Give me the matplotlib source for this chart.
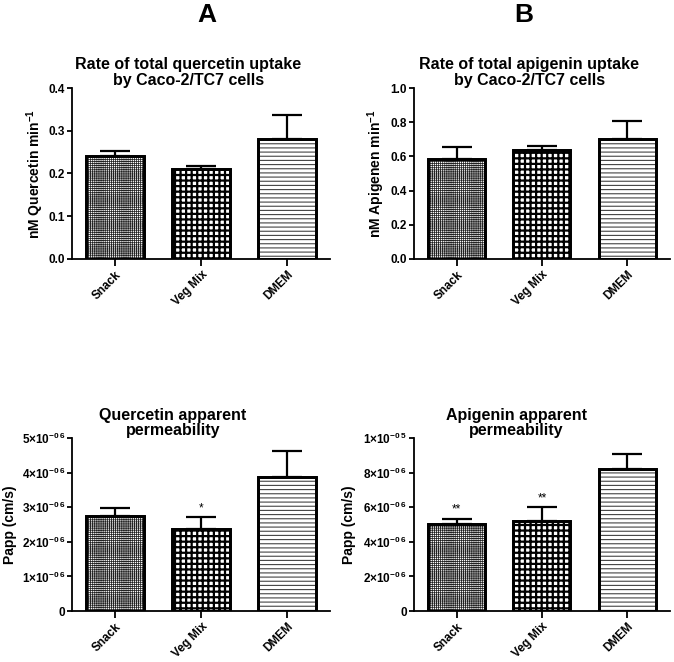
import matplotlib
matplotlib.use("Agg")
import matplotlib.pyplot as plt
import numpy as np

plt.rcParams["font.family"] = ["Liberation Sans", "DejaVu Sans"]
plt.rcParams["font.weight"] = "bold"
plt.rcParams["mathtext.fontset"] = "custom"
plt.rcParams["mathtext.rm"] = "Liberation Sans:bold"
plt.rcParams["mathtext.bf"] = "Liberation Sans:bold"
plt.rcParams["mathtext.default"] = "bf"

categories = ["Snack", "Veg Mix", "DMEM"]

# A: rate of quercetin uptake
quer_rate = [0.240, 0.210, 0.280]
quer_rate_err = [0.013, 0.008, 0.058]
# B: rate of apigenin uptake
api_rate = [0.585, 0.640, 0.703]
api_rate_err = [0.067, 0.020, 0.105]
# A: quercetin Papp
quer_papp = [2.75e-6, 2.38e-6, 3.87e-6]
quer_papp_err = [0.22e-6, 0.34e-6, 0.76e-6]
quer_sig = ["", "*", ""]
# B: apigenin Papp
api_papp = [5.02e-6, 5.22e-6, 8.22e-6]
api_papp_err = [0.33e-6, 0.78e-6, 0.85e-6]
api_sig = ["**", "**", ""]

quer_rate_ticks = [0.0, 0.1, 0.2, 0.3, 0.4]
quer_rate_ticklabels = ["0.0", "0.1", "0.2", "0.3", "0.4"]
api_rate_ticks = [0.0, 0.2, 0.4, 0.6, 0.8, 1.0]
api_rate_ticklabels = ["0.0", "0.2", "0.4", "0.6", "0.8", "1.0"]
quer_papp_ticks = [0, 1e-6, 2e-6, 3e-6, 4e-6, 5e-6]
quer_papp_ticklabels = ["0"] + [f"{i}$\\times$10$^{{\\mathbf{{-0\\,6}}}}$" for i in range(1, 6)]
api_papp_ticks = [0, 2e-6, 4e-6, 6e-6, 8e-6, 1e-5]
api_papp_ticklabels = ["0"] + [f"{i}$\\times$10$^{{\\mathbf{{-0\\,6}}}}$" for i in (2, 4, 6, 8)] \
    + ["1$\\times$10$^{\\mathbf{-0\\,5}}$"]

hatches = ["++++++++", "+++", "----"]
hatch_lw = [0.55, 1.6, 0.8]
hatch_col = ["#222222", "black", "#444444"]


def draw_panel(ax, vals, errs, ticks, ticklabels, title, title_x, ylabel,
               ylabel_size, label_x, tick_size, sig=None):
    x = np.arange(len(categories))
    for i in range(len(categories)):
        with plt.rc_context({"hatch.linewidth": hatch_lw[i],
                             "hatch.color": hatch_col[i]}):
            b = ax.bar(x[i], vals[i], width=0.67, color="white",
                       edgecolor="black", linewidth=2.0, hatch=hatches[i],
                       zorder=2)
            for p in b:
                if hasattr(p, "set_hatch_linewidth"):
                    p.set_hatch_linewidth(hatch_lw[i])
                p._hatch_color = matplotlib.colors.to_rgba(hatch_col[i])
        # outline redrawn in black on top
        ax.bar(x[i], vals[i], width=0.67, fill=False, edgecolor="black",
               linewidth=2.0, zorder=3)
    ax.errorbar(x, vals, yerr=[np.zeros(len(vals)), errs], fmt="none",
                ecolor="black", elinewidth=1.6, capsize=11, capthick=1.6,
                zorder=1)
    if sig:
        for xi, v, e, s in zip(x, vals, errs, sig):
            if s:
                ax.annotate(s, (xi, v + e), xytext=(0, 2),
                            textcoords="offset points", ha="center",
                            va="bottom", fontsize=8.5, fontweight="normal")
    ax.set_xlim(-0.5, 2.5)
    ax.set_ylim(ticks[0], ticks[-1])
    ax.set_yticks(ticks)
    ax.set_yticklabels(ticklabels, fontsize=tick_size, fontweight="bold")
    ax.set_xticks(x)
    ax.set_xticklabels(categories, rotation=45, ha="right",
                       rotation_mode="anchor", fontsize=8.5, fontweight="bold")
    ax.spines["top"].set_visible(False)
    ax.spines["right"].set_visible(False)
    ax.spines["left"].set_linewidth(1.3)
    ax.spines["bottom"].set_linewidth(1.3)
    ax.spines["left"].set_bounds(ticks[0], ticks[-1])
    ax.tick_params(axis="y", direction="out", width=1.3, length=3.5, pad=1.5)
    ax.tick_params(axis="x", direction="out", width=1.3, length=5, pad=2)
    ax.set_title(title, x=title_x, fontsize=11.5, fontweight="bold", pad=1,
                 linespacing=1.05)
    ax.set_ylabel(ylabel, fontsize=ylabel_size, fontweight="bold")
    ax.yaxis.set_label_coords(label_x, 0.5)


fig = plt.figure(figsize=(6.74, 6.62), dpi=100)

ax1 = fig.add_axes([0.107, 0.609, 0.383, 0.258])
draw_panel(ax1, quer_rate, quer_rate_err, quer_rate_ticks, quer_rate_ticklabels,
           "Rate of total quercetin uptake\nby Caco-2/TC7 cells", 0.45,
           "nM Quercetin min$^{\\mathbf{-1}}$", 10, -0.1, 8.5)

ax2 = fig.add_axes([0.614, 0.609, 0.380, 0.258])
draw_panel(ax2, api_rate, api_rate_err, api_rate_ticks, api_rate_ticklabels,
           "Rate of total apigenin uptake\nby Caco-2/TC7 cells", 0.45,
           "nM Apigenen min$^{\\mathbf{-1}}$", 10, -0.105, 8.5)

ax3 = fig.add_axes([0.107, 0.077, 0.383, 0.261])
draw_panel(ax3, quer_papp, quer_papp_err, quer_papp_ticks, quer_papp_ticklabels,
           "Quercetin apparent\npermeability", 0.39, "Papp (cm/s)", 10,
           -0.215, 8.5, sig=quer_sig)

ax4 = fig.add_axes([0.614, 0.077, 0.380, 0.261])
draw_panel(ax4, api_papp, api_papp_err, api_papp_ticks, api_papp_ticklabels,
           "Apigenin apparent\npermeability", 0.40, "Papp (cm/s)", 10,
           -0.225, 8.5, sig=api_sig)

fig.text(207 / 674, 1 - 15 / 662, "A", ha="center", va="center",
         fontsize=19, fontweight="bold")
fig.text(524 / 674, 1 - 15 / 662, "B", ha="center", va="center",
         fontsize=19, fontweight="bold")

fig.savefig("out.png", dpi=100)
